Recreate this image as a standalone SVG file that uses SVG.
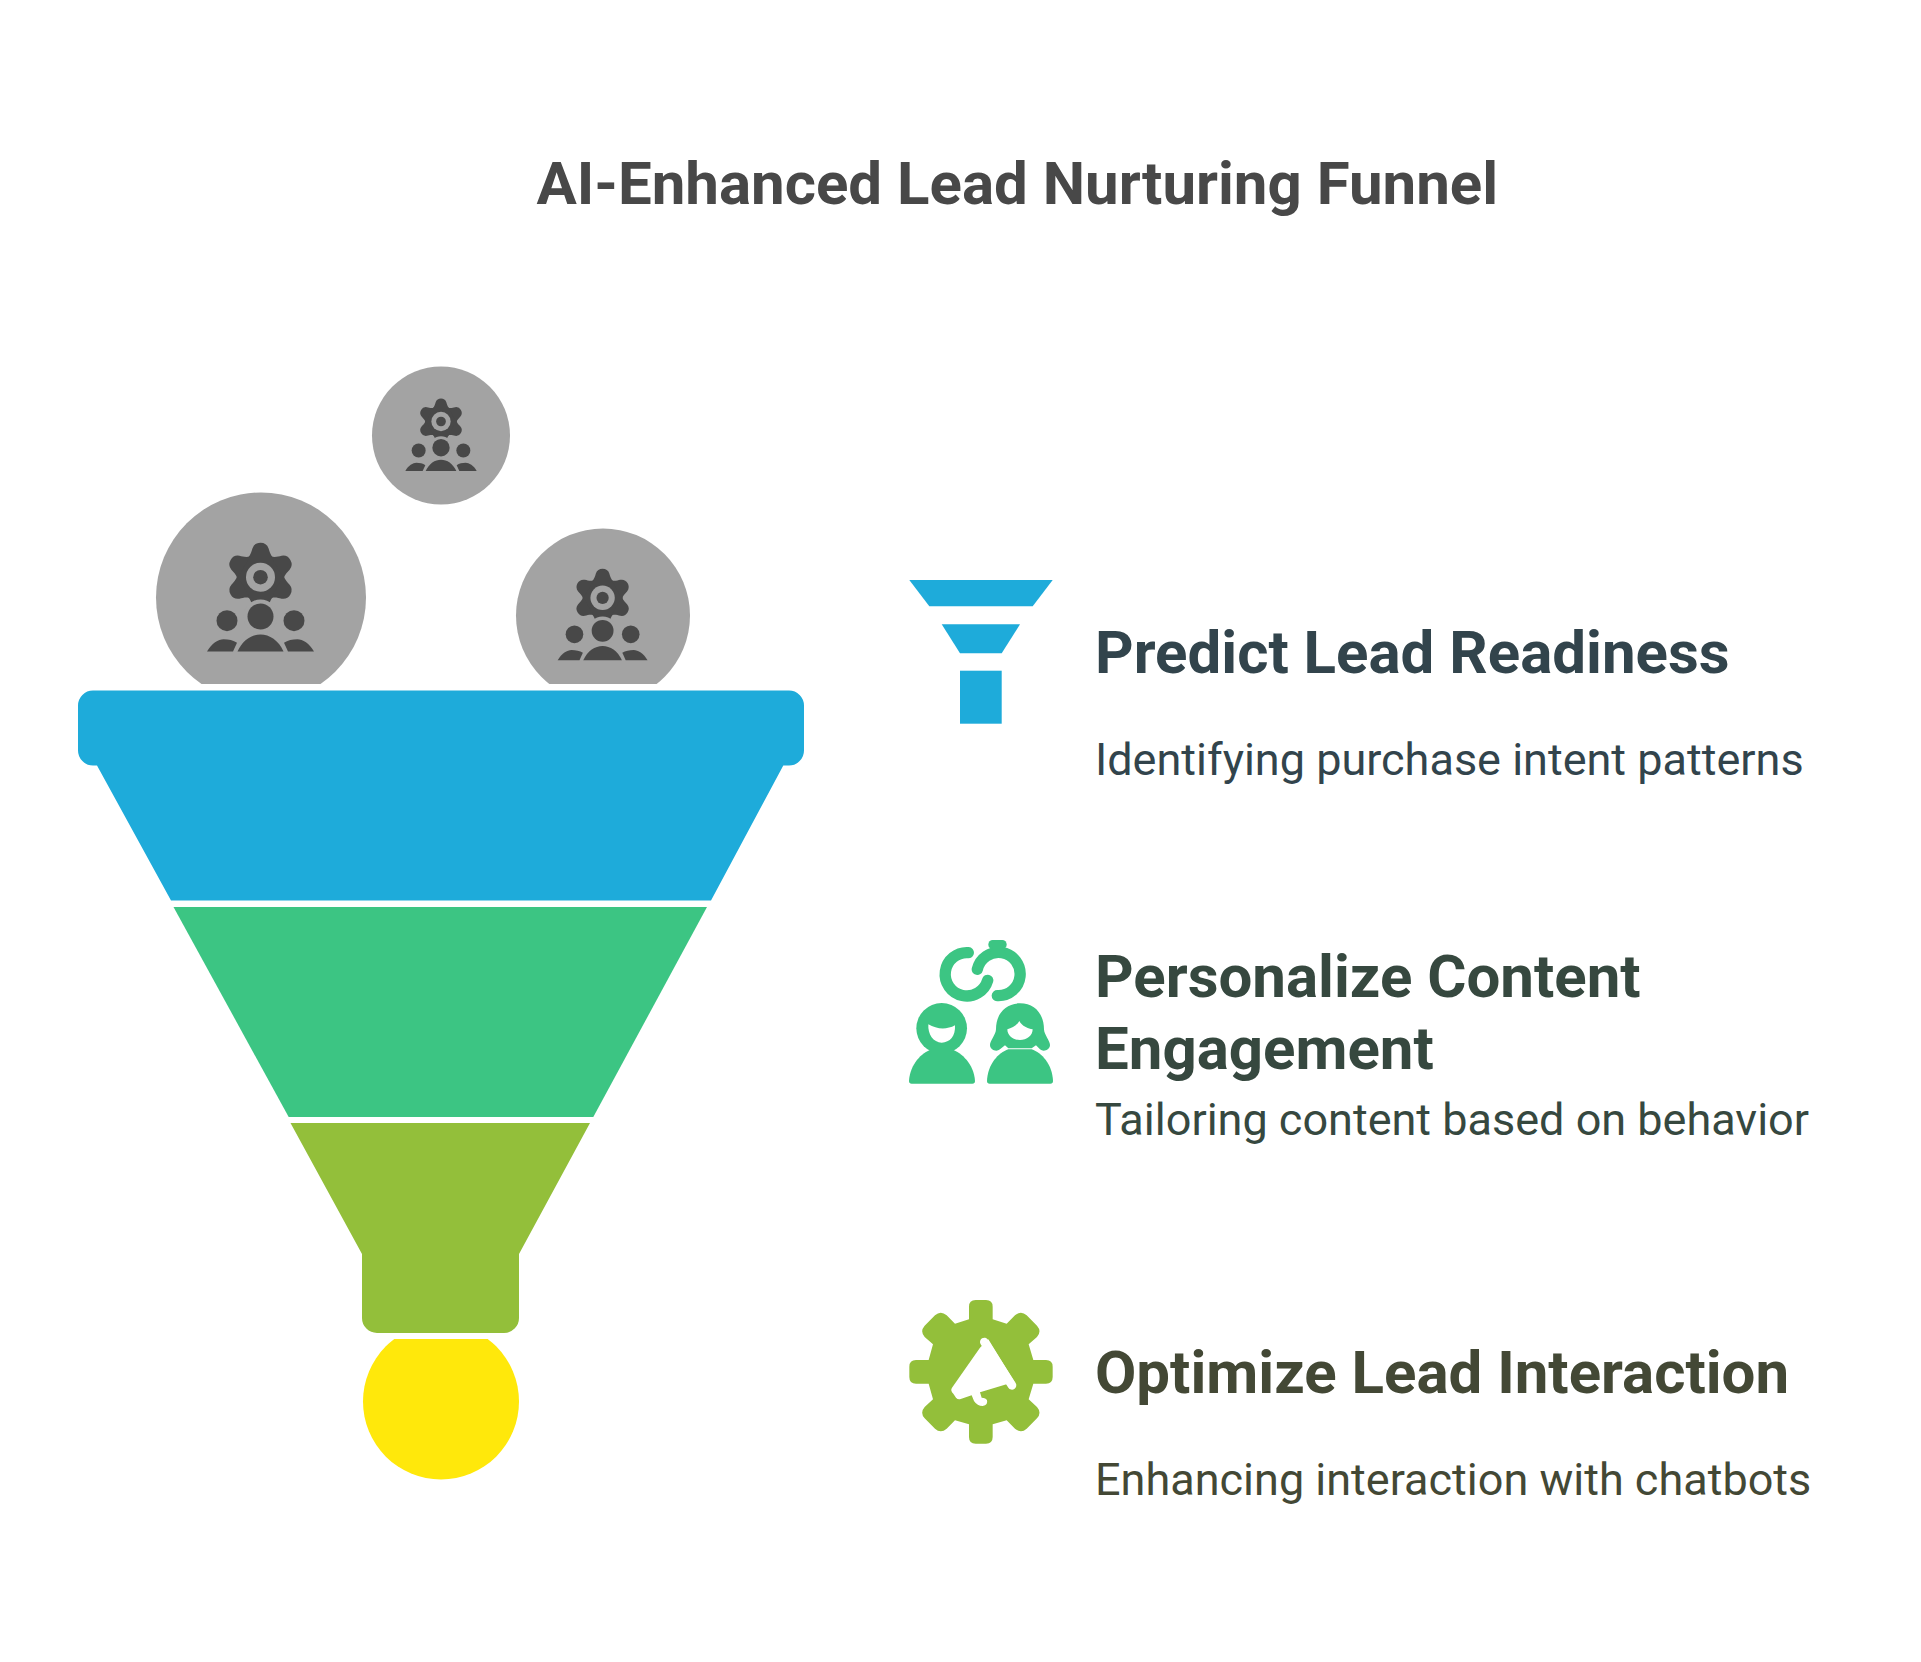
<svg xmlns="http://www.w3.org/2000/svg" width="1921" height="1662" viewBox="0 0 1921 1662">
<style>
text{font-family:Roboto,"Noto Sans",sans-serif}
.h{font-size:60px;font-weight:700}
.b{font-size:45px;font-weight:400}
.t{font-size:60px;font-weight:700;fill:#484848}
.c1{fill:#32444c}.c2{fill:#36483f}.c3{fill:#434835}
.d{fill:#484848}.g{fill:#a3a3a3}
.blue{fill:#1eabda}.green{fill:#3cc583}.olive{fill:#93bf3a}.yellow{fill:#ffe80b}
</style>
<defs>
<clipPath id="above"><rect x="0" y="0" width="1921" height="684"/></clipPath>
<clipPath id="below"><rect x="0" y="1339" width="1921" height="323"/></clipPath>
<path id="petal" class="d" d="M-12.5,-19.5C-9.5,-23 -9,-26 -8,-29Q-6,-34.5 0,-34.5Q6,-34.5 8,-29C9,-26 9.5,-23 12.5,-19.5Z"/>
<g id="crowd">
<circle class="d" r="23.5"/>
<use href="#petal"/>
<use href="#petal" transform="rotate(60)"/>
<use href="#petal" transform="rotate(120)"/>
<use href="#petal" transform="rotate(180)"/>
<use href="#petal" transform="rotate(240)"/>
<use href="#petal" transform="rotate(300)"/>
<circle class="g" r="14.5"/><circle class="d" r="7.3"/>
<circle class="g" cy="39.3" r="17"/><circle class="d" cy="39.3" r="13"/>
<circle class="d" cx="-33.5" cy="43.5" r="10.5"/><circle class="d" cx="33.5" cy="43.5" r="10.5"/>
<path class="d" d="M-23,74.3C-18,63 -9,57.3 0,57.3C9,57.3 18,63 23,74.3Z"/>
<path class="d" d="M-53.5,74.3C-49,66 -42,62 -37,62C-32,62 -27,63 -23.5,65.5L-27.5,74.3Z"/>
<path class="d" d="M53.5,74.3C49,66 42,62 37,62C32,62 27,63 23.5,65.5L27.5,74.3Z"/>
</g>
</defs>
<rect width="1921" height="1662" fill="#fff"/>
<g id="title"><text class="t" x="1017.3" y="204" text-anchor="middle">AI-Enhanced Lead Nurturing Funnel</text></g>

<g id="lead-small"><circle class="g" cx="441" cy="435.5" r="69" clip-path="url(#above)"/><use href="#crowd" transform="translate(441,421.5) scale(.667)"/></g>
<g id="lead-large"><circle class="g" cx="261" cy="597.5" r="105" clip-path="url(#above)"/><use href="#crowd" transform="translate(260.5,577.2)"/></g>
<g id="lead-medium"><circle class="g" cx="603" cy="615.5" r="87" clip-path="url(#above)"/><use href="#crowd" transform="translate(602.6,597.8) scale(.84)"/></g>

<g id="funnel-blue"><path class="blue" d="M93,690.5H789A15,15 0 0 1 804,705.5V750.5A15,15 0 0 1 789,765.5H783.3L711,900.5H171L97,765.5H93A15,15 0 0 1 78,750.5V705.5A15,15 0 0 1 93,690.5Z"/></g>
<g id="funnel-green"><path class="green" d="M173.5,907H707L593.3,1117H288.7Z"/></g>
<g id="funnel-olive"><path class="olive" d="M290.5,1123H590L519,1254V1318A15,15 0 0 1 504,1333H377A15,15 0 0 1 362,1318V1254Z"/></g>
<g id="funnel-yellow"><circle class="yellow" cx="441" cy="1401.5" r="78" clip-path="url(#below)"/></g>

<g id="icon-funnel" class="blue">
<path d="M909.3,580H1052.7L1032.7,606.3H929.3Z"/>
<path d="M941.7,624.3H1020L1001.7,653.3H960Z"/>
<rect x="960" y="670.7" width="41.7" height="53"/>
</g>
<g id="icon-people" transform="translate(890,931) scale(.33333)">
<g fill="none" stroke="#3cc583" stroke-width="34" stroke-linecap="round">
<path d="M235,65A65,65 0 1 0 293,148"/>
<path d="M262,115A65,65 0 1 1 322,194"/>
</g>
<rect class="green" x="295" y="27" width="55" height="27" rx="13"/>
<path class="green" d="M308,50H337L350,72H298Z"/>
<circle class="green" cx="155" cy="292" r="76"/>
<path class="green" d="M57,450C60,400 95,365 125,355L185,355C215,365 252,400 255,450Q255,458 247,458L65,458Q57,458 57,450Z"/>
<path fill="#fff" d="M115,280C140,295 170,297 195,283C197,315 180,335 155,335C130,335 113,310 115,280Z"/>
<path class="green" d="M390,217C345,217 318,250 318,295C318,310 300,330 300,342C300,355 318,365 330,355L345,343L355,352L425,352L438,343L450,355C462,365 480,355 480,342C480,330 462,310 462,295C462,250 435,217 390,217Z"/>
<path class="green" d="M291,450C293,400 325,365 355,355L425,355C455,365 487,400 489,450Q489,458 481,458L299,458Q291,458 291,450Z"/>
<path fill="#fff" d="M352,295C365,290 380,285 388,270C395,285 415,293 428,295C428,315 410,327 390,327C370,327 352,315 352,295Z"/>
</g>
<g id="icon-gear" transform="translate(890,1291) scale(.33333)">
<path class="olive" d="M237,47Q237,27 257,27H288Q308,27 308,47V85L350,98L375,73Q393,58 410,73L441,104Q456,121 441,138L416,160L430,207H468Q488,207 488,227V258Q488,278 468,278H430L416,325L441,348Q456,365 441,382L410,413Q393,428 375,413L350,388L308,400V438Q308,458 288,458H257Q237,458 237,438V400L195,388L170,413Q152,428 135,413L104,382Q89,365 104,348L129,325L116,278H78Q58,278 58,258V227Q58,207 78,207H116L129,160L104,138Q89,121 104,104L135,73Q152,58 170,73L195,98L237,85Z"/>
<path fill="#fff" d="M270,170L186,290Q180,298 190,308L198,320Q204,327 212,324L245,313L252,330Q262,345 278,345Q295,342 291,328Q288,320 275,320L270,304L352,279L375,275L295,145Z"/>
<path d="M283,153L366,283" stroke="#fff" stroke-width="26" stroke-linecap="round" fill="none"/>
</g>

<g id="item-1">
<text class="h c1" x="1095" y="672.5">Predict Lead Readiness</text>
<text class="b c1" x="1095" y="775">Identifying purchase intent patterns</text>
</g>
<g id="item-2">
<text class="h c2" x="1095" y="996.5">Personalize Content</text>
<text class="h c2" x="1095" y="1068.5">Engagement</text>
<text class="b c2" x="1095" y="1135">Tailoring content based on behavior</text>
</g>
<g id="item-3">
<text class="h c3" x="1095" y="1393">Optimize Lead Interaction</text>
<text class="b c3" x="1095" y="1495">Enhancing interaction with chatbots</text>
</g>
</svg>
